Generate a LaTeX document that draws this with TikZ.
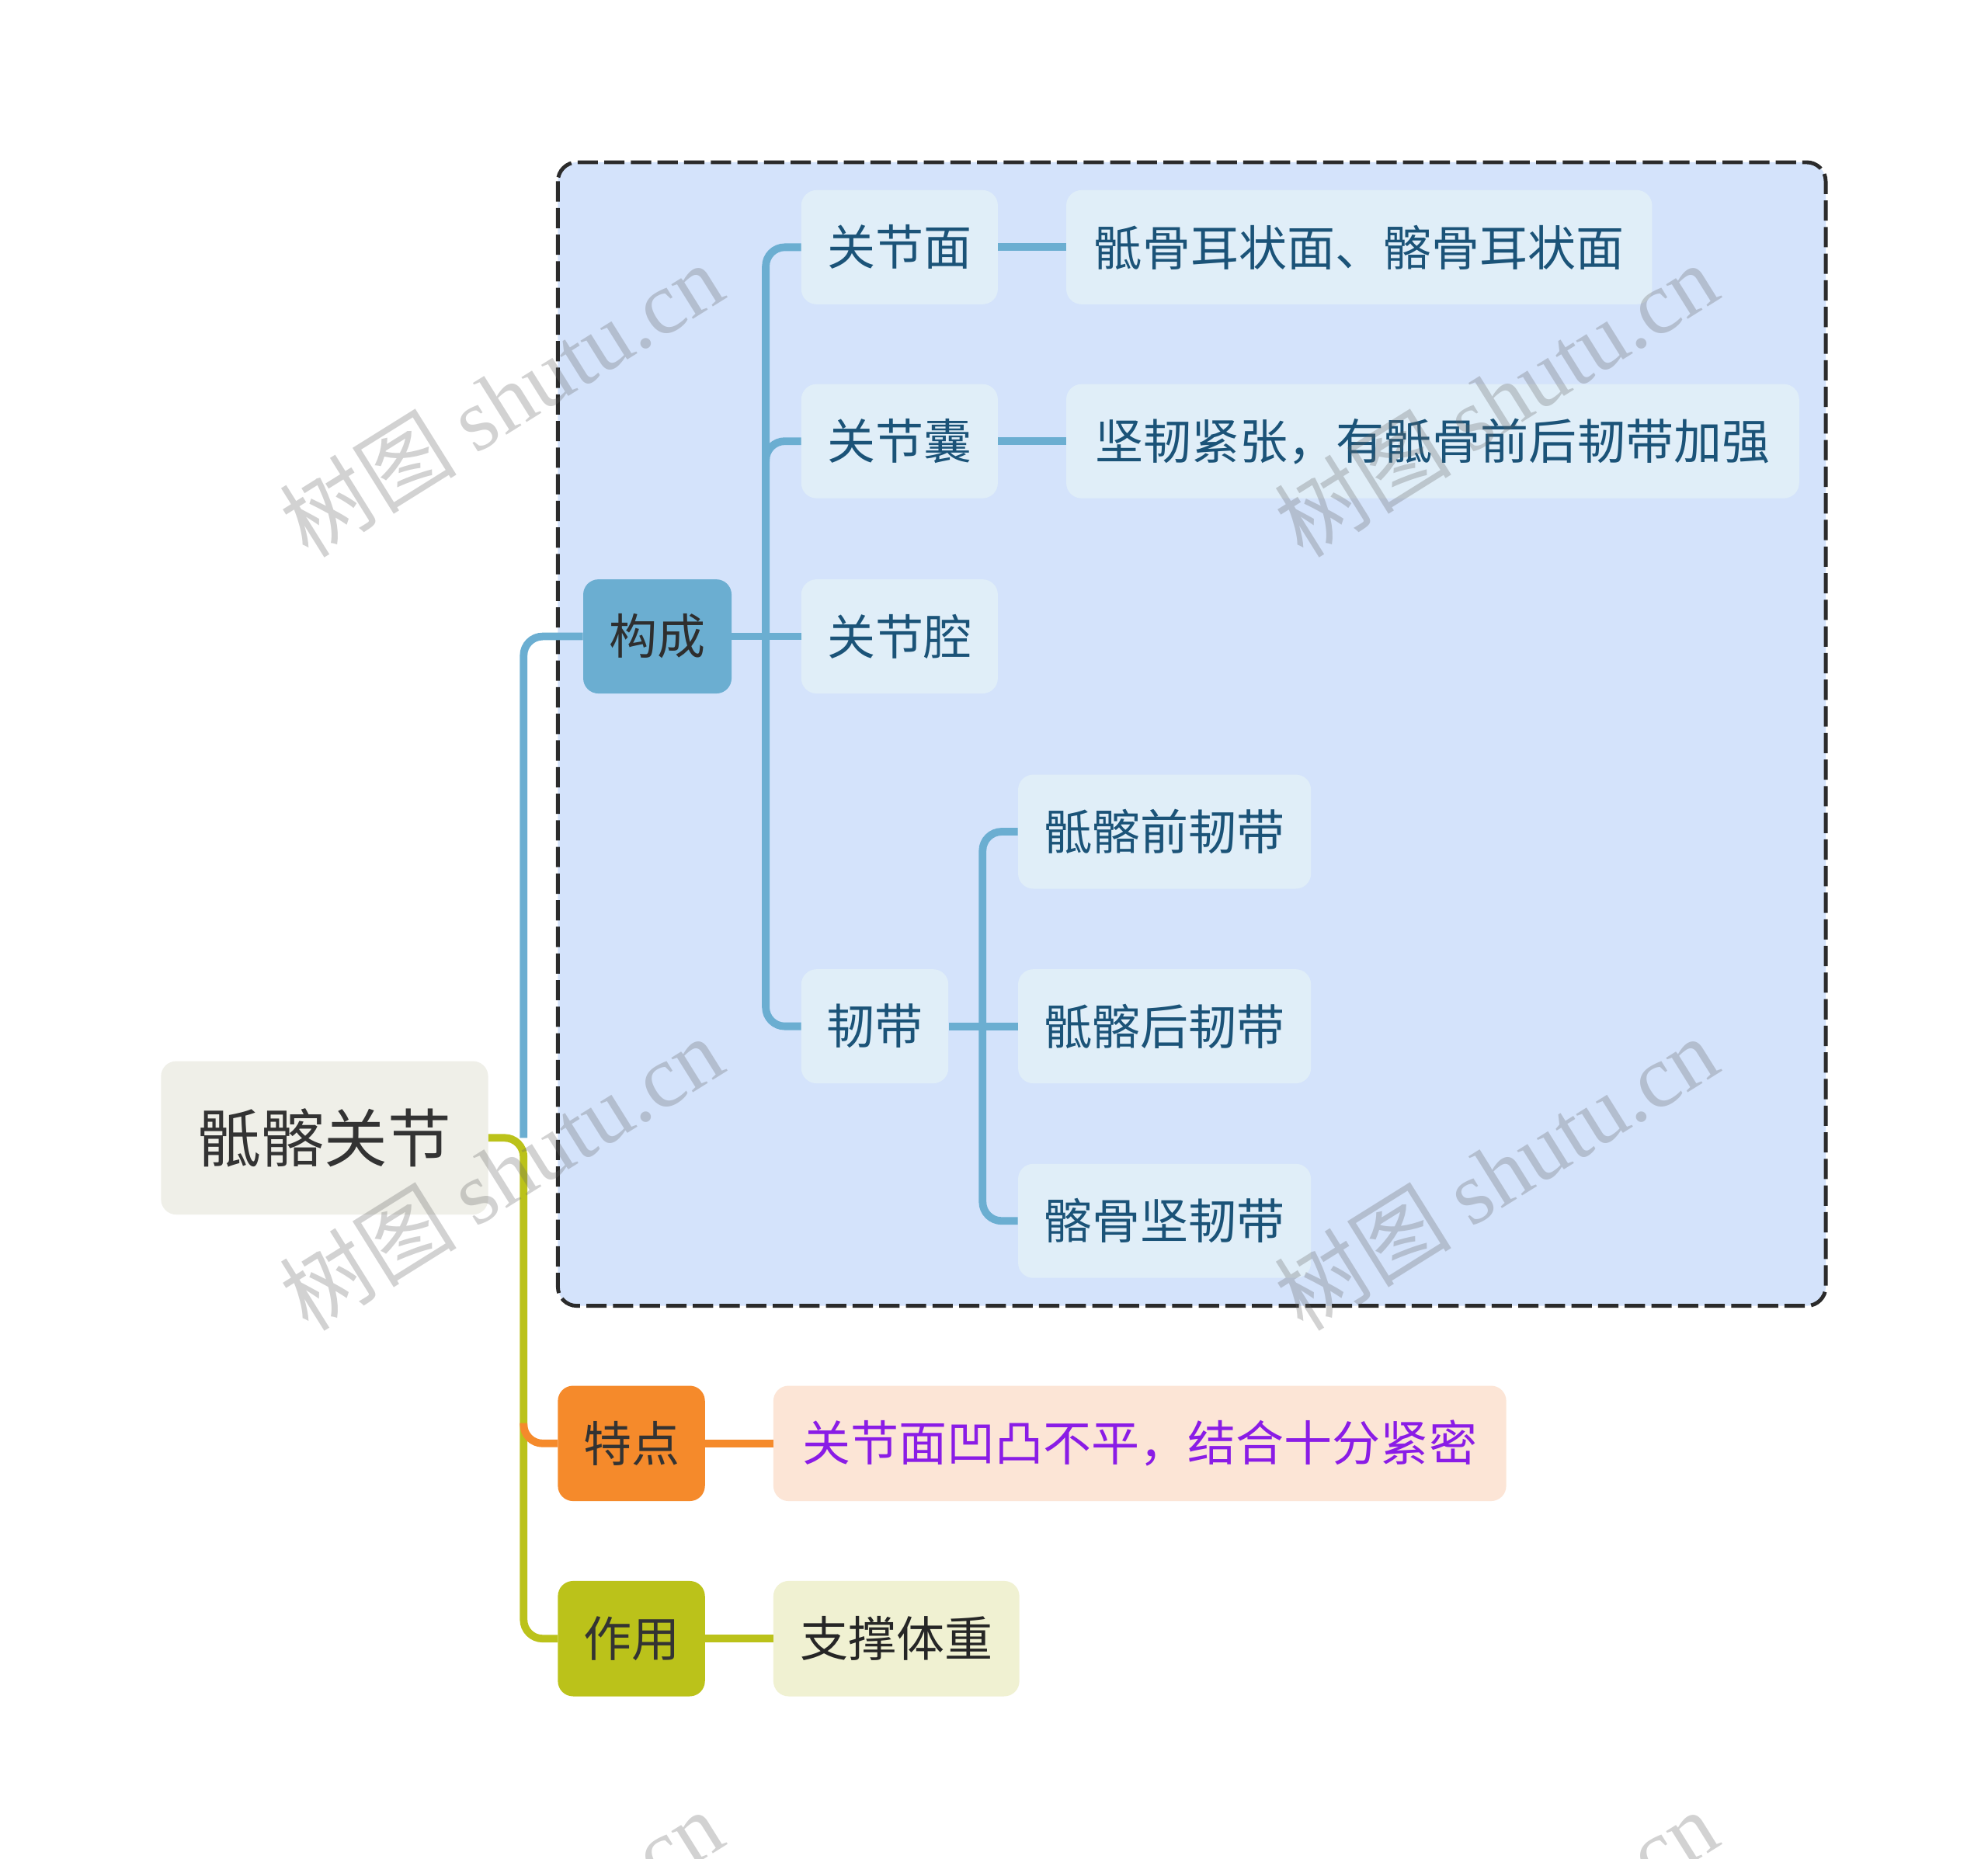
\documentclass[tikz,border=0pt]{standalone}
\usepackage{fontspec}
\setmainfont{Noto Sans CJK SC}
\newfontfamily\wmlatin{Liberation Serif}
\usetikzlibrary{calc}
\definecolor{panelfill}{HTML}{D4E3FB}
\definecolor{panelline}{HTML}{2B2B2B}
\definecolor{nodelt}{HTML}{E0EEF8}
\definecolor{txtblue}{HTML}{1B5378}
\definecolor{lineblue}{HTML}{6BAED1}
\definecolor{rootfill}{HTML}{EFEFE8}
\definecolor{rootfg}{HTML}{333333}
\definecolor{orangefill}{HTML}{F58A2B}
\definecolor{peach}{HTML}{FCE5D6}
\definecolor{purpletxt}{HTML}{8A1CE6}
\definecolor{ygfill}{HTML}{BBC21A}
\definecolor{ylight}{HTML}{F0F1D2}
\definecolor{wmgray}{HTML}{656565}
\begin{document}
\begin{tikzpicture}[x=1pt,y=-1pt,
  box/.style={rounded corners=12pt, inner sep=0pt, minimum height=90pt, align=center},
  lt/.style={box, fill=nodelt, text=txtblue, font=\fontsize{38}{40}\selectfont},
  bl/.style={draw=lineblue, line width=6pt, rounded corners=15pt},
  ygl/.style={draw=ygfill, line width=6pt, rounded corners=15pt},
  orl/.style={draw=orangefill, line width=6pt, rounded corners=15pt},
  wm/.style={text=wmgray, opacity=0.29, rotate=32, font=\fontsize{70}{72}\selectfont, inner sep=0pt}
]
\useasboundingbox (0,0) rectangle (1568,1466);
\fill[white] (0,0) rectangle (1568,1466);

% dashed panel
\draw[fill=panelfill, draw=panelline, line width=3pt, dash pattern=on 16pt off 5pt, rounded corners=15pt]
  (440,128) rectangle (1440,1030);

% nodes
\node[box, fill=rootfill, text=rootfg, minimum width=258pt, minimum height=121pt,
  font=\fontsize{50}{52}\selectfont] (root) at (256,897.5) {骶髂关节};
\node[box, fill=lineblue, text=rootfg!90!black, minimum width=117pt,
  font=\fontsize{38}{40}\selectfont] (gc) at (518.5,502) {构成};

\node[lt, minimum width=155pt] (gmm) at (709.5,195) {关节面};
\node[lt, minimum width=462pt] (gmm2) at (1072,195) {骶骨耳状面、髂骨耳状面};
\node[lt, minimum width=155pt] (gjn) at (709.5,348) {关节囊};
\node[lt, minimum width=578pt] (gjn2) at (1130,348) {坚韧紧张，有骶骨前后韧带加强};
\node[lt, minimum width=155pt] (gjq) at (709.5,502) {关节腔};
\node[lt, minimum width=116pt] (rd) at (690,809.5) {韧带};
\node[lt, minimum width=231pt] (rd1) at (918.5,656) {骶髂前韧带};
\node[lt, minimum width=231pt] (rd2) at (918.5,809.5) {骶髂后韧带};
\node[lt, minimum width=231pt] (rd3) at (918.5,963) {髂骨坚韧带};

\node[box, fill=orangefill, text=black!80, minimum width=116pt, minimum height=91pt,
  font=\fontsize{38}{40}\selectfont] (td) at (498,1138.5) {特点};
\node[box, fill=peach, text=purpletxt, minimum width=578pt, minimum height=91pt,
  font=\fontsize{38}{40}\selectfont] (td2) at (899,1138.5) {关节面凹凸不平，结合十分紧密};
\node[box, fill=ygfill, text=black!80, minimum width=116pt, minimum height=91pt,
  font=\fontsize{38}{40}\selectfont] (zy) at (498,1292.5) {作用};
\node[box, fill=ylight, text=black!85, minimum width=194pt, minimum height=91pt,
  font=\fontsize{38}{40}\selectfont] (zy2) at (707,1292.5) {支撑体重};

% junction coordinates
\coordinate (j0) at (413,897.5);
\coordinate (j1) at (604,502);
\coordinate (j2) at (775,809.5);

% connectors
\draw[bl] (j0) |- (gc.west);
\draw[ygl] (root.east) -- (j0) |- (zy.west);
\draw[orl] ($(j0|-td.west)+(0,-16)$) |- (td.west);
\draw[orl, rounded corners=0pt] (td.east) -- (td2.west);
\draw[ygl, rounded corners=0pt] (zy.east) -- (zy2.west);

\draw[bl, rounded corners=0pt] (gc.east) -- (gjq.west);
\draw[bl] (gmm.west) -| (j1) |- (rd.west);
\draw[bl] ($(j1|-gjn.west)+(0,16)$) |- (gjn.west);
\draw[bl, rounded corners=0pt] (gmm.east) -- (gmm2.west);
\draw[bl, rounded corners=0pt] (gjn.east) -- (gjn2.west);

\draw[bl] (rd1.west) -| (j2) |- (rd3.west);
\draw[bl, rounded corners=0pt] (rd.east) -- (rd2.west);

% watermarks
\begin{scope}
\clip (0,0) rectangle (1568,1466);
\foreach \wx/\wy [count=\i] in {395/315, 1180/315, 395/925, 1180/925, 395/1535, 1180/1535}{
  \node[wm] (wm\i) at (\wx,\wy) {树图 {\wmlatin shutu.cn}};
}
\end{scope}
\end{tikzpicture}
\end{document}
